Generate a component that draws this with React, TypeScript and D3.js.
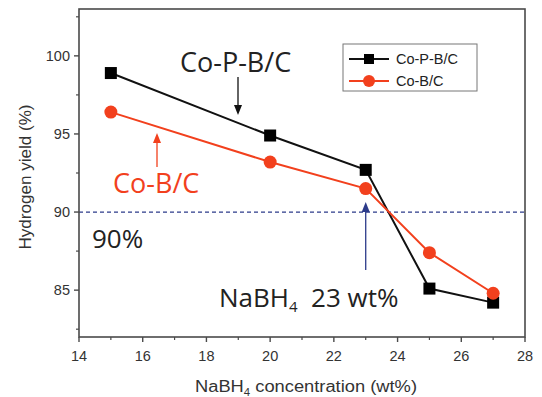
import React from "react";
import * as d3 from "d3";

// concentration of NaBH4 (wt%)
const concentrations = [15, 20, 23, 25, 27];
const coPBC = [98.9, 94.9, 92.7, 85.1, 84.2];
const coBC = [96.4, 93.2, 91.5, 87.4, 84.8];

const xTicks = [14, 16, 18, 20, 22, 24, 26, 28];
const xMinor = [15, 17, 19, 21, 23, 25, 27];
const yTicks = [85, 90, 95, 100];
const yMinor = [82.5, 87.5, 92.5, 97.5, 102.5];

const W = 542;
const H = 397;
const margin = { top: 9, right: 17, bottom: 60, left: 79 };

const AXIS = "#4a4a4a";
const RED = "#f2401d";
const NAVY = "#2c3b8a";
const AXIS_FONT = "'Liberation Sans', Arial, sans-serif";
const NOTE_FONT = "'Open Sans', 'Noto Sans', sans-serif";

export default function App() {
  const x = d3.scaleLinear().domain([14, 28]).range([margin.left, W - margin.right]);
  const y = d3.scaleLinear().domain([82, 103]).range([H - margin.bottom, margin.top]);

  const line = d3
    .line<number>()
    .x((_, i) => x(concentrations[i]))
    .y((d) => y(d));

  const x0 = x.range()[0];
  const x1 = x.range()[1];
  const yb = y.range()[0];
  const yt = y.range()[1];

  // small filled arrowhead, tip at (tx, ty), pointing up or down
  const arrowHead = (tx: number, ty: number, dir: 1 | -1) =>
    `M${tx},${ty} L${tx - 4},${ty - dir * 10} L${tx + 4},${ty - dir * 10} Z`;

  return (
    <div style={{ position: "absolute", left: 0, top: 0 }}>
      <svg width={W} height={H} style={{ display: "block", background: "#fff" }}>
        {/* 90% threshold */}
        <line
          x1={x0}
          x2={x1}
          y1={y(90)}
          y2={y(90)}
          stroke={NAVY}
          strokeWidth={1.2}
          strokeDasharray="4,3"
        />

        {/* series lines */}
        <path d={line(coPBC) || ""} fill="none" stroke="#111" strokeWidth={2} />
        <path d={line(coBC) || ""} fill="none" stroke={RED} strokeWidth={2} />

        {concentrations.map((c, i) => (
          <rect
            key={"s" + c}
            x={x(c) - 6}
            y={y(coPBC[i]) - 6}
            width={12}
            height={12}
            fill="#000"
          />
        ))}
        {concentrations.map((c, i) => (
          <circle key={"c" + c} cx={x(c)} cy={y(coBC[i])} r={6.5} fill={RED} />
        ))}

        {/* frame */}
        <rect
          x={x0}
          y={yt}
          width={x1 - x0}
          height={yb - yt}
          fill="none"
          stroke={AXIS}
          strokeWidth={1.6}
        />

        {/* x ticks */}
        {xTicks.map((t) => (
          <g key={"xt" + t}>
            <line x1={x(t)} x2={x(t)} y1={yb} y2={yb + 5} stroke={AXIS} strokeWidth={1.4} />
            <text
              x={x(t)}
              y={yb + 24}
              textAnchor="middle"
              fontFamily={AXIS_FONT}
              fontSize={14.5}
              fill="#333"
            >
              {t}
            </text>
          </g>
        ))}
        {xMinor.map((t) => (
          <line key={"xm" + t} x1={x(t)} x2={x(t)} y1={yb} y2={yb + 3} stroke={AXIS} strokeWidth={1.2} />
        ))}

        {/* y ticks */}
        {yTicks.map((t) => (
          <g key={"yt" + t}>
            <line x1={x0 - 5} x2={x0} y1={y(t)} y2={y(t)} stroke={AXIS} strokeWidth={1.4} />
            <text
              x={x0 - 9}
              y={y(t) + 5}
              textAnchor="end"
              fontFamily={AXIS_FONT}
              fontSize={14.5}
              fill="#333"
            >
              {t}
            </text>
          </g>
        ))}
        {yMinor.map((t) => (
          <line key={"ym" + t} x1={x0 - 3} x2={x0} y1={y(t)} y2={y(t)} stroke={AXIS} strokeWidth={1.2} />
        ))}

        {/* axis titles */}
        <text
          transform={`translate(31,177) rotate(-90)`}
          textAnchor="middle"
          fontFamily={AXIS_FONT}
          fontSize={16}
          textLength={145}
          lengthAdjust="spacingAndGlyphs"
          fill="#333"
        >
          Hydrogen yield (%)
        </text>
        <text
          x={195}
          y={392}
          fontFamily={AXIS_FONT}
          fontSize={16}
          textLength={222}
          lengthAdjust="spacingAndGlyphs"
          fill="#333"
        >
          NaBH<tspan fontSize={10} dy={4}>4</tspan>
          <tspan dy={-4}> concentration (wt%)</tspan>
        </text>

        {/* annotations */}
        <text x={180} y={72} fontFamily={NOTE_FONT} fontSize={27} fill="#222">
          Co-P-B/C
        </text>
        <line x1={238} x2={238} y1={77} y2={106} stroke="#111" strokeWidth={1.3} />
        <path d={arrowHead(238, 115, 1)} fill="#111" />

        <text x={113} y={193} fontFamily={NOTE_FONT} fontSize={27} fill={RED}>
          Co-B/C
        </text>
        <line x1={157} x2={157} y1={167} y2={142} stroke={RED} strokeWidth={1.3} />
        <path d={arrowHead(157, 133, -1)} fill={RED} />

        <text x={92} y={248} fontFamily={NOTE_FONT} fontSize={26} fill="#222">
          90%
        </text>

        <text x={219} y={307} fontFamily={NOTE_FONT} fontSize={26} fill="#222">
          NaBH<tspan fontSize={15} dy={5}>4</tspan>
          <tspan dy={-5}>{"\u00a0 23 wt%"}</tspan>
        </text>
        <line x1={x(23)} x2={x(23)} y1={270} y2={211} stroke={NAVY} strokeWidth={1.3} />
        <path d={arrowHead(x(23), 202, -1)} fill={NAVY} />

        {/* legend */}
        <rect x={343} y={44} width={134} height={47} fill="#fff" stroke="#777" strokeWidth={1} />
        <line x1={349} x2={389} y1={59} y2={59} stroke="#111" strokeWidth={2} />
        <rect x={364} y={54} width={10} height={10} fill="#000" />
        <text x={396} y={64} fontFamily={AXIS_FONT} fontSize={14.5} fill="#222">
          Co-P-B/C
        </text>
        <line x1={349} x2={389} y1={81} y2={81} stroke={RED} strokeWidth={2} />
        <circle cx={369} cy={81} r={6} fill={RED} />
        <text x={396} y={86} fontFamily={AXIS_FONT} fontSize={14.5} fill="#222">
          Co-B/C
        </text>
      </svg>
    </div>
  );
}
